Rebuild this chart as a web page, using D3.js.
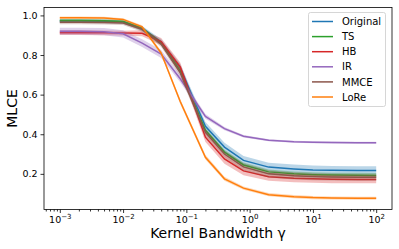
<!DOCTYPE html>
<html>
<head>
<meta charset="utf-8">
<script src="https://cdn.jsdelivr.net/npm/d3@7"></script>
<style>
  body { margin: 0; background: #fff; }
  text { font-family: "DejaVu Sans", sans-serif; }
</style>
</head>
<body>
<svg id="chart" width="399" height="249"></svg>
<script>
// Kernel bandwidth grid (x values)
var bandwidths = [0.001, 0.002, 0.005, 0.01, 0.02, 0.04, 0.08, 0.2, 0.4, 0.8, 2, 5, 10, 20, 50, 100];

// mean MLCE per method
var original = [0.972, 0.972, 0.971, 0.968, 0.935, 0.865, 0.735, 0.44, 0.335, 0.268, 0.234, 0.225, 0.22, 0.218, 0.217, 0.217];
var ts       = [0.974, 0.974, 0.973, 0.969, 0.933, 0.86, 0.72, 0.42, 0.31, 0.245, 0.21, 0.2, 0.196, 0.194, 0.193, 0.192];
var hb       = [0.913, 0.913, 0.912, 0.911, 0.91, 0.868, 0.74, 0.385, 0.275, 0.215, 0.185, 0.178, 0.175, 0.173, 0.172, 0.172];
var ir       = [0.92, 0.92, 0.918, 0.907, 0.86, 0.805, 0.68, 0.49, 0.428, 0.39, 0.37, 0.362, 0.36, 0.358, 0.357, 0.357];
var mmce     = [0.965, 0.965, 0.964, 0.962, 0.93, 0.855, 0.71, 0.41, 0.30, 0.235, 0.2, 0.19, 0.186, 0.184, 0.183, 0.183];
var lore     = [0.988, 0.988, 0.987, 0.98, 0.942, 0.81, 0.565, 0.284, 0.175, 0.128, 0.095, 0.085, 0.08, 0.078, 0.077, 0.077];

// spread (std) per method
var originalStd = [0.01, 0.01, 0.01, 0.01, 0.012, 0.015, 0.02, 0.022, 0.022, 0.022, 0.022, 0.022, 0.022, 0.022, 0.022, 0.022];
var tsStd       = [0.008, 0.008, 0.008, 0.008, 0.01, 0.012, 0.012, 0.012, 0.012, 0.012, 0.012, 0.012, 0.012, 0.012, 0.012, 0.012];
var hbStd       = [0.012, 0.012, 0.012, 0.012, 0.015, 0.018, 0.022, 0.024, 0.024, 0.022, 0.02, 0.02, 0.02, 0.02, 0.02, 0.02];
var irStd       = [0.018, 0.018, 0.018, 0.018, 0.02, 0.02, 0.018, 0.012, 0.008, 0.006, 0.005, 0.005, 0.005, 0.005, 0.005, 0.005];
var mmceStd     = [0.01, 0.01, 0.01, 0.01, 0.012, 0.015, 0.018, 0.018, 0.018, 0.018, 0.018, 0.018, 0.018, 0.018, 0.018, 0.018];
var loreStd     = [0.006, 0.006, 0.006, 0.006, 0.008, 0.01, 0.012, 0.012, 0.01, 0.008, 0.008, 0.008, 0.008, 0.008, 0.008, 0.008];

var methodNames = ["Original", "TS", "HB", "IR", "MMCE", "LoRe"];
var methodColors = ["#1f77b4", "#2ca02c", "#d62728", "#9467bd", "#8c564b", "#ff7f0e"];
var methodMeans = [original, ts, hb, ir, mmce, lore];
var methodStds = [originalStd, tsStd, hbStd, irStd, mmceStd, loreStd];

var yTicks = [0.2, 0.4, 0.6, 0.8, 1.0];
var xTickExps = [-3, -2, -1, 0, 1, 2];

// plot box (avoid the global names top/left etc.)
var box = {left: 44, right: 392, top: 7.5, bottom: 209.5};

var svg = d3.select("#chart");

var x = d3.scaleLog()
  .domain([Math.pow(10, -3.25), Math.pow(10, 2.25)])
  .range([box.left, box.right]);

var y = d3.scaleLinear()
  .domain([0.02, 1.04])
  .range([box.bottom, box.top]);

// bands + lines, one method at a time
methodNames.forEach(function(name, k) {
  var rows = bandwidths.map(function(b, i) {
    return {b: b, m: methodMeans[k][i], s: methodStds[k][i]};
  });

  var band = d3.area()
    .x(function(d) { return x(d.b); })
    .y0(function(d) { return y(d.m - d.s); })
    .y1(function(d) { return y(d.m + d.s); });

  var line = d3.line()
    .x(function(d) { return x(d.b); })
    .y(function(d) { return y(d.m); });

  svg.append("path")
    .attr("d", band(rows))
    .style("fill", methodColors[k])
    .style("fill-opacity", 0.3)
    .style("stroke", "none");

  svg.append("path")
    .attr("d", line(rows))
    .style("fill", "none")
    .style("stroke", methodColors[k])
    .style("stroke-width", 1.5);
});

// x axis, major ticks with superscript labels
var xAxis = svg.append("g")
  .attr("transform", "translate(0," + box.bottom + ")")
  .call(d3.axisBottom(x)
    .tickValues(xTickExps.map(function(e) { return Math.pow(10, e); }))
    .tickSize(3.5)
    .tickPadding(3)
    .tickFormat(""));

xAxis.selectAll(".tick text").remove();
xAxis.selectAll(".tick").each(function(d, i) {
  var t = d3.select(this).append("text")
    .attr("y", 13)
    .attr("fill", "#000")
    .attr("text-anchor", "middle")
    .style("font-size", "9.5px");
  t.append("tspan").text("10");
  t.append("tspan")
    .attr("dy", -4)
    .style("font-size", "7px")
    .text(xTickExps[i] < 0 ? "\u2212" + Math.abs(xTickExps[i]) : xTickExps[i]);
});

// x minor ticks
var minor = [];
for (var e = -4; e <= 2; e++) {
  for (var m = 2; m <= 9; m++) {
    var v = m * Math.pow(10, e);
    if (v > x.domain()[0] && v < x.domain()[1]) minor.push(v);
  }
}
svg.append("g")
  .attr("transform", "translate(0," + box.bottom + ")")
  .call(d3.axisBottom(x).tickValues(minor).tickSize(2).tickFormat(""))
  .call(function(g) { g.select(".domain").remove(); });

// y axis
svg.append("g")
  .attr("transform", "translate(" + box.left + ",0)")
  .call(d3.axisLeft(y)
    .tickValues(yTicks)
    .tickSize(3.5)
    .tickPadding(3)
    .tickFormat(d3.format(".1f")))
  .call(function(g) {
    g.select(".domain").remove();
    g.selectAll("text").style("font-size", "9.5px").attr("fill", "#000");
  });

svg.selectAll(".tick line").attr("stroke", "#000").attr("stroke-width", 0.8);
xAxis.select(".domain").remove();

// frame
svg.append("rect")
  .attr("x", box.left)
  .attr("y", box.top)
  .attr("width", box.right - box.left)
  .attr("height", box.bottom - box.top)
  .style("fill", "none")
  .style("stroke", "#000")
  .style("stroke-width", 0.8);

// axis titles
svg.append("text")
  .attr("x", (box.left + box.right) / 2)
  .attr("y", 238)
  .attr("text-anchor", "middle")
  .style("font-size", "14px")
  .text("Kernel Bandwidth \u03b3");

svg.append("text")
  .attr("transform", "translate(17," + (box.top + box.bottom) / 2 + ") rotate(-90)")
  .attr("text-anchor", "middle")
  .style("font-size", "14px")
  .text("MLCE");

// legend
var legend = svg.append("g");
legend.append("rect")
  .attr("x", 308.5)
  .attr("y", 12.5)
  .attr("width", 77)
  .attr("height", 94)
  .attr("rx", 2)
  .style("fill", "#fff")
  .style("fill-opacity", 0.8)
  .style("stroke", "#ccc")
  .style("stroke-width", 0.8);

methodNames.forEach(function(name, k) {
  var ly = 21.5 + k * 15.1;
  legend.append("line")
    .attr("x1", 312).attr("x2", 333)
    .attr("y1", ly).attr("y2", ly)
    .style("stroke", methodColors[k])
    .style("stroke-width", 1.5);
  legend.append("text")
    .attr("x", 342)
    .attr("y", ly + 3.6)
    .style("font-size", "10px")
    .text(name);
});
</script>
</body>
</html>
